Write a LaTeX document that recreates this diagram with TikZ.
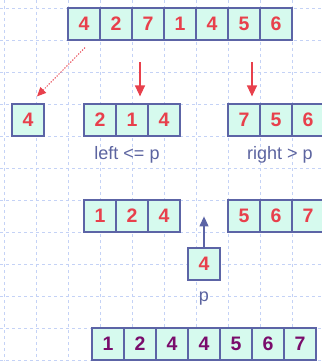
\documentclass[tikz,border=0pt]{standalone}
\usepackage{fontspec}
\setmainfont{Liberation Sans}
\usetikzlibrary{arrows.meta}
\definecolor{cellc}{RGB}{214,250,238}
\definecolor{bordc}{RGB}{92,100,166}
\definecolor{redc}{RGB}{232,64,76}
\definecolor{purc}{RGB}{122,12,108}
\definecolor{gridc}{RGB}{196,210,246}
\definecolor{labc}{RGB}{92,100,160}
\tikzset{
  cell/.style={draw=bordc, fill=cellc, line width=1.2pt, minimum width=32pt, minimum height=32pt, inner sep=0pt, font=\bfseries\fontsize{19.5}{19.5}\selectfont, text=redc},
  botcell/.style={cell, text=purc},
  gridline/.style={gridc, line width=0.9pt, dash pattern=on 3pt off 3pt},
  lab/.style={font=\fontsize{18}{18}\selectfont, text=labc, anchor=base, inner sep=0pt},
  redarrow/.style={redc, line width=1.3pt, -{Triangle[length=11pt,width=10pt]}},
  dotarrow/.style={redc, line width=1pt, dash pattern=on 1.2pt off 1.6pt, -{Triangle[length=9pt,width=8pt]}},
  bluearrow/.style={bordc, line width=1.2pt, -{Triangle[length=10pt,width=9pt]}}
}
\begin{document}
\begin{tikzpicture}[x=1pt,y=-1pt]
\useasboundingbox (0,0) rectangle (321,361);
\fill[white] (0,0) rectangle (321,361);
\foreach \x in {4,36,...,292} \draw[gridline] (\x,0) -- (\x,361);
\foreach \y in {8,40,...,360} \draw[gridline] (0,\y) -- (321,\y);
% top array
\foreach \v [count=\i] in {4,2,7,1,4,5,6}
  \node[cell] (t\i) at ({52+32*\i},24) {\v};
% row 2
\node[cell] (a) at (28,120) {4};
\foreach \v [count=\i] in {2,1,4}
  \node[cell] (l\i) at ({68+32*\i},120) {\v};
\foreach \v [count=\i] in {7,5,6}
  \node[cell] (r\i) at ({212+32*\i},120) {\v};
\node[lab] (ll) at (127,159) {left <= p};
\node[lab] (rl) at (280,159) {right > p};
% row 3
\foreach \v [count=\i] in {1,2,4}
  \node[cell] (m\i) at ({68+32*\i},216) {\v};
\foreach \v [count=\i] in {5,6,7}
  \node[cell] (n\i) at ({212+32*\i},216) {\v};
\node[cell] (pv) at (204,264) {4};
\node[lab] (pl) at (204,301) {p};
% bottom
\foreach \v [count=\i] in {1,2,4,4,5,6,7}
  \node[botcell] (b\i) at ({76+32*\i},344) {\v};
% arrows
\draw[dotarrow] ([shift={(1pt,-7pt)}]t1.south) -- ([shift={(9pt,7pt)}]a.north);
\draw[redarrow] ([shift={(8pt,41pt)}]l2.north) -- ([shift={(8pt,7pt)}]l2.north);
\draw[redarrow] ([shift={(8pt,41pt)}]r1.north) -- ([shift={(8pt,7pt)}]r1.north);
\draw[bluearrow] (pv.north) -- ([yshift=31pt]pv.north);
\end{tikzpicture}
\end{document}
